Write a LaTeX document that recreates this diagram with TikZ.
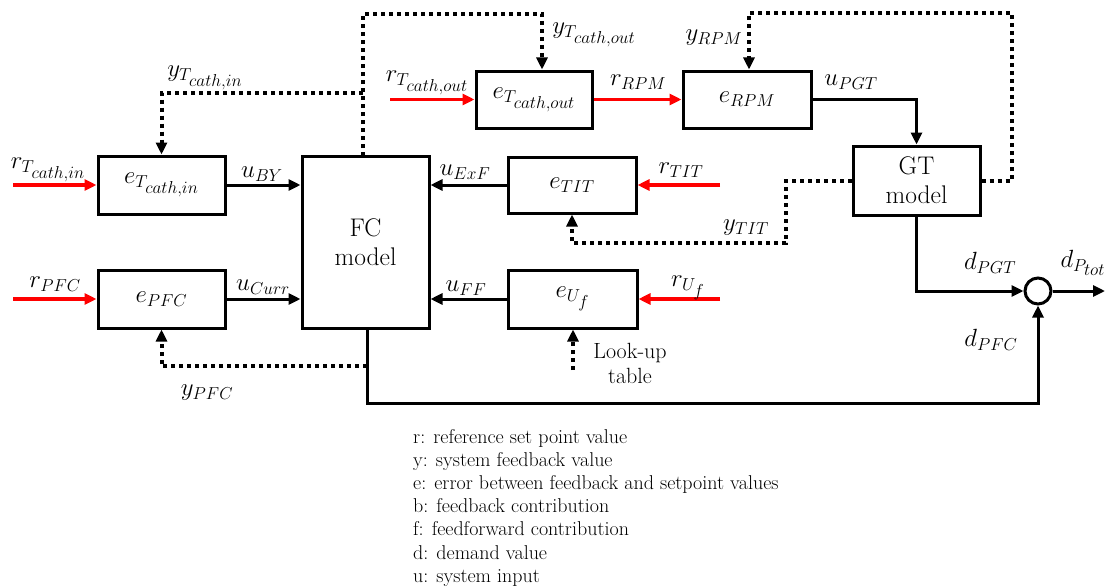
\documentclass[tikz,border=0pt]{standalone}
\usetikzlibrary{arrows.meta}
\DeclareMathSizes{24}{24}{19}{16}
\begin{document}
\begin{tikzpicture}[x=1pt,y=-1pt,
  blk/.style={draw,line width=3pt,inner sep=0pt,font=\fontsize{24}{28}\selectfont},
  txt/.style={inner sep=0pt,font=\fontsize{24}{28}\selectfont},
  big/.style={font=\fontsize{25.5}{29}\selectfont\rmfamily,align=center},
  arr/.style={line width=3pt,-{Triangle[length=12pt,width=11pt]}},
  redarr/.style={line width=3.5pt,red,-{Triangle[length=12pt,width=11pt]}},
  dotl/.style={line width=4pt,dash pattern=on 4pt off 4pt},
  dotarr/.style={dotl,-{Triangle[length=12pt,width=11pt]}},
  leg/.style={anchor=base west,inner sep=0pt,font=\fontsize{20}{23}\selectfont\rmfamily}]
\useasboundingbox (0,0) rectangle (1107,586);

% blocks
\node[blk,minimum width=127pt,minimum height=58pt] (ein) at (161.5,185) {$e_{T_{cath,in}}$};
\node[blk,big,minimum width=127pt,minimum height=172pt] (fc) at (365.5,242) {FC\\model};
\node[blk,minimum width=127pt,minimum height=58pt] (epfc) at (161.5,299) {$e_{PFC}$};
\node[blk,minimum width=116pt,minimum height=57pt] (eout) at (534,99.5) {$e_{T_{cath,out}}$};
\node[blk,minimum width=128pt,minimum height=57pt] (erpm) at (747,99.5) {$e_{RPM}$};
\node[blk,minimum width=128pt,minimum height=56pt] (etit) at (572,185) {$e_{TIT}$};
\node[blk,minimum width=129pt,minimum height=58pt] (euf) at (572.5,299) {$e_{U_f}$};
\node[blk,big,minimum width=127pt,minimum height=69pt] (gt) at (916.5,180.5) {GT\\model};
\node[draw,circle,line width=3pt,minimum size=26pt,inner sep=0pt] (sum) at (1038,291) {};

% free ends
\coordinate (rin) at (13,185);
\coordinate (rpfc) at (13,299);
\coordinate (rout) at (390,99.5);
\coordinate (rtit) at (720,185);
\coordinate (ruf) at (720,299);
\coordinate (fctop) at (363,156);
\coordinate (fcjoin) at (363,93);
\coordinate (fcbot) at (367,328);
\coordinate (ypfc) at (367,366);
\coordinate (lut) at (573,370);
\coordinate (dtot) at (1105,291);

% red reference arrows
\draw[redarr] (rin) -- (ein.west);
\draw[redarr] (rpfc) -- (epfc.west);
\draw[redarr] (rout) -- (eout.west);
\draw[redarr] (eout.east) -- (erpm.west);
\draw[redarr] (rtit) -- (etit.east);
\draw[redarr] (ruf) -- (euf.east);

% solid signals
\draw[arr] (ein.east) -- (ein.east -| fc.west);
\draw[arr] (epfc.east) -- (epfc.east -| fc.west);
\draw[arr] (etit.west) -- (etit.west -| fc.east);
\draw[arr] (euf.west) -- (euf.west -| fc.east);
\draw[arr] (erpm.east) -| (gt.north);
\draw[arr] (gt.south) |- (sum.west);
\draw[arr] (fcbot) -- (367,403) -| (sum.south);
\draw[arr] (sum.east) -- (dtot);

% dotted feedback
\draw[dotarr] (fctop) -- (363,14) -| ([xshift=8pt]eout.north);
\draw[dotarr] (fcjoin) -| (ein.north);
\draw[dotarr] (ypfc) -| (epfc.south);
\draw[dotarr] (gt.east) -- (1012,180.5) |- (749,13) -- (erpm.north -| 749,0);
\draw[dotarr] (gt.west) -- (786,180.5) |- (572,243) -- (etit.south);
\draw[dotarr] (lut) -- (euf.south -| lut);

% labels
\node[txt] (l1) at (48,170) {$r_{T_{cath,in}}$};
\node[txt] (l2) at (205,78) {$y_{T_{cath,in}}$};
\node[txt] (l3) at (262,174) {$u_{BY}$};
\node[txt] (l4) at (594,35) {$y_{T_{cath,out}}$};
\node[txt] (l5) at (427,83) {$r_{T_{cath,out}}$};
\node[txt] (l6) at (638,82) {$r_{RPM}$};
\node[txt] (l7) at (714,38) {$y_{RPM}$};
\node[txt] (l8) at (851,82) {$u_{PGT}$};
\node[txt] (l9) at (465,172) {$u_{ExF}$};
\node[txt] (l10) at (681,170) {$r_{TIT}$};
\node[txt] (l11) at (746,228) {$y_{TIT}$};
\node[txt] (l12) at (263,287) {$u_{Curr}$};
\node[txt] (l13) at (55,284) {$r_{PFC}$};
\node[txt] (l14) at (207,393) {$y_{PFC}$};
\node[txt] (l15) at (466,288) {$u_{FF}$};
\node[txt] (l16) at (688,288) {$r_{U_f}$};
\node[txt] (l17) at (990,263) {$d_{PGT}$};
\node[txt] (l18) at (1083,263) {$d_{P_{tot}}$};
\node[txt] (l19) at (991,340) {$d_{PFC}$};
\node[inner sep=0pt,align=center,font=\fontsize{22}{25}\selectfont\rmfamily] (lut) at (630,363) {Look-up\\table};

% legend
\node[leg] (g1) at (413,443) {r: reference set point value};
\node[leg] (g2) at (413,466.2) {y: system feedback value};
\node[leg] (g3) at (413,489.4) {e: error between feedback and setpoint values};
\node[leg] (g4) at (413,512.6) {b: feedback contribution};
\node[leg] (g5) at (413,535.8) {f: feedforward contribution};
\node[leg] (g6) at (413,559) {d: demand value};
\node[leg] (g7) at (413,582) {u: system input};
\end{tikzpicture}
\end{document}
